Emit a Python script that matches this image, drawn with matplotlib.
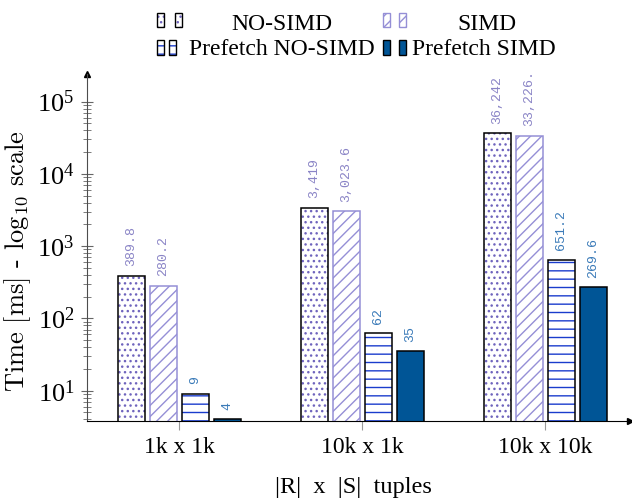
import matplotlib
matplotlib.use("Agg")
import matplotlib.pyplot as plt
from matplotlib.patches import Rectangle
from matplotlib.ticker import FixedLocator, NullFormatter

groups = ["1k x 1k", "10k x 1k", "10k x 10k"]
series = ["NO-SIMD", "SIMD", "Prefetch NO-SIMD", "Prefetch SIMD"]
no_simd = [389.8, 3419, 36242]
simd = [280.2, 3023.6, 33226.4]
pf_no_simd = [9, 62, 651.2]
pf_simd = [4, 35, 269.6]

W, H = 632, 504

#_____________________________________________________________________________
def main():

    plt.rcParams["mathtext.fontset"] = "cm"
    plt.rcParams["font.family"] = ["Liberation Serif", "DejaVu Serif"]
    plt.rcParams["hatch.linewidth"] = 1.0

    values = [no_simd, simd, pf_no_simd, pf_simd]
    styles = get_styles()

    fig = plt.figure(figsize=(W/100, H/100), dpi=100)
    ax = fig.add_axes([87/W, 1-421/H, 543/W, 347/H])

    bw = 0.1475
    offs = [-0.262, -0.0874, 0.0874, 0.262]
    xg = list(range(len(groups)))

    for i in range(len(series)):
        st = styles[i]
        xs = [x + offs[i] for x in xg]
        draw_bars(ax, xs, values[i], bw, st)
        for x, v in zip(xs, values[i]):
            ax.annotate(fmt(v), (x, v), xytext=(0, 7), textcoords="offset points",
                        rotation=90, ha="center", va="bottom", color=st["lcol"],
                        family="Liberation Mono", fontsize=9.5, clip_on=True)

    ax.set_yscale("log")
    ax.set_ylim(3.81, 2.41e5)
    ax.set_xlim(-0.503, 2.464)

    ax.set_xticks(xg)
    ax.set_xticklabels(groups, fontsize=17)
    ax.tick_params(axis="x", direction="out", length=6.5, width=0.8, color="0.6", pad=5)

    #minor ticks stop at 1e5, the axis line goes on to the arrow
    minors = [m*10**e for e in range(0, 5) for m in range(2, 10)]
    minors = [m for m in minors if m > 3.81]
    ax.yaxis.set_major_locator(FixedLocator([10, 100, 1e3, 1e4, 1e5]))
    ax.yaxis.set_minor_locator(FixedLocator(minors))
    ax.yaxis.set_minor_formatter(NullFormatter())
    ax.tick_params(axis="y", which="major", direction="inout", length=8, width=0.8,
                   color="0.4", labelsize=19, pad=5)
    ax.tick_params(axis="y", which="minor", direction="inout", length=5.5, width=0.6,
                   color="0.4")

    for s in ["top", "right"]:
        ax.spines[s].set_visible(False)
    ax.spines["left"].set_color("0.3")
    ax.spines["bottom"].set_color("black")
    ax.plot(0, 1, "^", color="black", markersize=5, transform=ax.transAxes, clip_on=False)
    ax.plot(1, 0, ">", color="black", markersize=4, transform=ax.transAxes, clip_on=False)

    ax.set_xlabel("|R|  x  |S|  tuples", fontsize=17.5)
    ax.xaxis.set_label_coords((353-87)/543, -(487-421)/347)
    ax.xaxis.label.set_va("center")
    ax.set_ylabel("Time [ms] - log$_{10}$ scale", family="cmr10", fontsize=19)
    ax.yaxis.set_label_coords(-(87-18)/543, (421-261)/347)
    ax.yaxis.label.set_va("center")

    draw_legend(fig, styles)

    fig.savefig("out.png", dpi=100)
    plt.close()

#main

#_____________________________________________________________________________
def get_styles():

    st = []
    st.append(dict(hatch="...", hcol="#6f64bd", ecol="black", fcol="white", lcol="#8a84c6"))
    st.append(dict(hatch="///", hcol="#958fd6", ecol="#958fd6", fcol="white", lcol="#8a84c6"))
    st.append(dict(hatch="--", hcol="#1a3ccc", ecol="black", fcol="white", lcol="#3a7ab8"))
    st.append(dict(hatch=None, hcol="black", ecol="black", fcol="#005596", lcol="#3a7ab8"))

    return st

#get_styles

#_____________________________________________________________________________
def draw_bars(ax, xs, vals, bw, st):

    ax.bar(xs, vals, bw, color=st["fcol"], edgecolor=st["hcol"], hatch=st["hatch"], linewidth=0)
    ax.bar(xs, vals, bw, fill=False, edgecolor=st["ecol"], linewidth=1.1)

#draw_bars

#_____________________________________________________________________________
def fmt(v):

    s = f"{v:,.2f}".rstrip("0").rstrip(".")
    return s

#fmt

#_____________________________________________________________________________
def draw_legend(fig, styles):

    #icon left edges, text centre, row top/baseline in pixels
    icons = [(157, 175), (383, 399), (157, 169), (383, 399)]
    tx = [282, 487, 282, 484]
    top = [13, 13, 40, 40]
    hgt = [14, 14, 15, 15]
    base = [30, 30, 55, 55]

    for i in range(len(series)):
        st = styles[i]
        for x0 in icons[i]:
            xy = (x0/W, 1-(top[i]+hgt[i])/H)
            w, h = 7/W, hgt[i]/H
            fig.add_artist(Rectangle(xy, w, h, transform=fig.transFigure, facecolor=st["fcol"],
                                     edgecolor=st["hcol"], hatch=st["hatch"], linewidth=0))
            fig.add_artist(Rectangle(xy, w, h, transform=fig.transFigure, fill=False,
                                     edgecolor=st["ecol"], linewidth=1.0))
        fig.text(tx[i]/W, 1-base[i]/H, series[i], ha="center", va="baseline", fontsize=17)

#draw_legend

#_____________________________________________________________________________
if __name__ == "__main__":

    main()
